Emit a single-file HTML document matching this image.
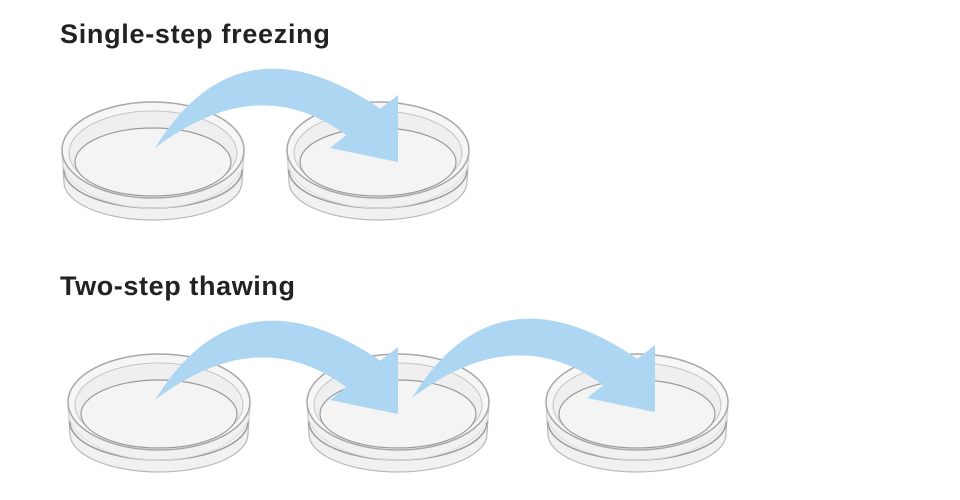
<!DOCTYPE html>
<html><head><style>body{margin:0;background:#fff}svg{display:block}</style></head><body>
<svg width="960" height="500" viewBox="0 0 960 500" xmlns="http://www.w3.org/2000/svg">
<defs>
<g id="dish">
<path d="M-91,0 L-89,32 A89,38 0 0 0 89,32 L91,0 Z" fill="#f1f1f1" stroke="#b8b8b8" stroke-width="1.2"/>
<ellipse cx="0" cy="0" rx="91" ry="48" fill="#f6f6f6" stroke="#a8a8a8" stroke-width="1.5"/>
<ellipse cx="0" cy="3" rx="84" ry="42" fill="#efefef" stroke="#c4c4c4" stroke-width="1"/>
<ellipse cx="0" cy="12" rx="78" ry="34" fill="#f4f4f4" stroke="#9a9a9a" stroke-width="1.2"/>
<path d="M-89,20 A89,38 0 0 0 89,20" fill="none" stroke="#9c9c9c" stroke-width="1.5"/>
<path d="M-91,8 A91,50 0 0 0 91,8" fill="none" stroke="#ddd" stroke-width="1"/>
</g>
<g id="arrow">
<path d="M0,0 Q85,-138 230,-36 L195,-10 Q105,-80 0,0 Z"/>
<path d="M243,-53 L243,14 L175,0 Z"/>
</g>
</defs>
<text x="60" y="43" font-family="Liberation Sans, sans-serif" font-weight="bold" font-size="27" letter-spacing="0.7" fill="#222">Single-step freezing</text>
<text x="60" y="295" font-family="Liberation Sans, sans-serif" font-weight="bold" font-size="27" letter-spacing="0.6" fill="#222">Two-step thawing</text>
<use href="#dish" x="153" y="150"/>
<use href="#dish" x="378" y="150"/>
<use href="#dish" x="159" y="402"/>
<use href="#dish" x="398" y="402"/>
<use href="#dish" x="637" y="402"/>
<g fill="#acd6f2">
<use href="#arrow" x="155" y="148"/>
<use href="#arrow" x="155" y="400"/>
<use href="#arrow" x="412" y="398"/>
</g>
</svg>
</body></html>
